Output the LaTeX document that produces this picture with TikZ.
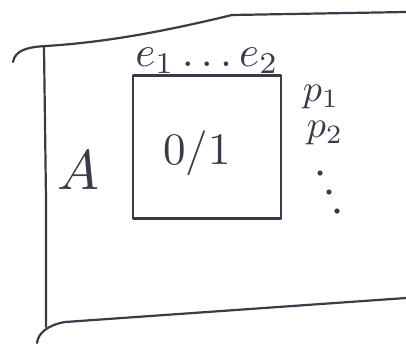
\documentclass[tikz,border=0pt]{standalone}
\usepackage{amsmath}
\usepackage{xcolor}
\usepackage{tikz}
\usetikzlibrary{positioning}
\definecolor{ink}{HTML}{3A3A48}

\begin{document}
\begin{tikzpicture}[
  x=1pt, y=-1pt,
  stroke/.style={draw=ink, line width=2.2pt, line cap=round, line join=round},
  lbl/.style={text=ink, inner sep=1pt},
  cell/.style={stroke, minimum width=148pt, minimum height=143pt, inner sep=0pt}]
\useasboundingbox (0,0) rectangle (406,349);
% outer matrix, open to the right
\draw[stroke] (13,62) .. controls (15,50) and (28,47) .. (46,46)
  .. controls (110,42) and (170,30) .. (232,15) -- (406,12);
\draw[stroke] (44,47) -- (46,200) -- (46,327);
\draw[stroke] (37,343) .. controls (38,333) and (48,325) .. (65,322) -- (406,298);
\node[lbl] (A) at (78,170) {\scalebox{5.6}{$A$}};

% sub-block
\node[cell] (blk) at (207,147) {};
\node[lbl] (bit) at (197,153) {\scalebox{4.5}{0/1}};
\node[lbl, above=0pt of blk] (cols) {\scalebox{4.3}{$e_1\ldots e_2$}};
\node[lbl] (p1) at (321,97) {\scalebox{3.8}{$p_1$}};
\node[lbl, below=10pt of p1, xshift=4pt] (p2) {\scalebox{3.8}{$p_2$}};
% further rows
\foreach \x/\y in {320/173, 329/192, 337/211}
  \fill[ink] (\x,\y) circle (2.6pt);
\end{tikzpicture}
\end{document}
